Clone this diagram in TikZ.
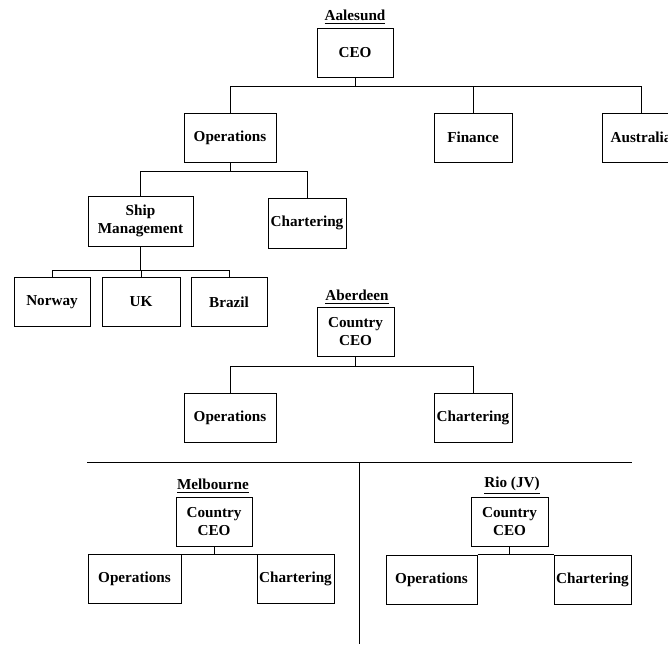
\documentclass[tikz,border=0pt]{standalone}
\usepackage{fontspec}
\setmainfont{Liberation Serif}

\tikzset{
  box/.style={draw, line width=0.5pt, align=center, inner sep=1pt,
    minimum height=24.5pt, font=\fontsize{7.6}{8.8}\selectfont\bfseries},
  site/.style={inner sep=0pt, font=\fontsize{7.6}{8.8}\selectfont\bfseries},
  link/.style={line width=0.5pt}
}

\begin{document}
\begin{tikzpicture}[x=0.5pt,y=-0.5pt]
				\useasboundingbox (0,0) rectangle (668,644);
				\clip (0,0) rectangle (668,644);
				
				% head office
				\node[site] (aalesund) at (355,17) {\underline{Aalesund}};
				\node[box, minimum width=38pt] (ceo) at (355,53) {CEO};
				\node[box, minimum width=46pt] (ops) at (230,137.5) {Operations};
				\node[box, minimum width=39pt] (fin) at (473,137.5) {Finance};
				\node[box, minimum width=39pt] (aus) at (641,137.5) {Australia};
				\coordinate (bus) at (0,86);
				\draw[link] (ceo.south) -- (ceo.south |- bus);
				\draw[link] (ops.north) -- (ops.north |- bus) -- (aus.north |- bus) -- (aus.north);
				\draw[link] (fin.north) -- (fin.north |- bus);
				
				\node[box, minimum width=52.5pt, minimum height=25pt] (ship) at (140.5,221) {Ship\\Management};
				\node[box, minimum width=39pt, minimum height=25pt] (char) at (307,223) {Chartering};
				\coordinate (opsbus) at (0,171);
				\draw[link] (ops.south) -- (ops.south |- opsbus);
				\draw[link] (ship.north) -- (ship.north |- opsbus) -- (char.north |- opsbus) -- (char.north);
				
				\node[box, minimum width=38pt] (nor) at (52,302) {Norway};
				\node[box, minimum width=39pt] (uk) at (141,302) {UK};
				\node[box, minimum width=38pt] (bra) at (229,302) {Brazil};
				\coordinate (shipbus) at (0,270);
				\draw[link] (ship.south) -- (ship.south |- shipbus);
				\draw[link] (nor.north) -- (nor.north |- shipbus) -- (bra.north |- shipbus) -- (bra.north);
				\draw[link] (uk.north) -- (uk.north |- shipbus);
				
				% Aberdeen
				\node[site] (aberdeen) at (357,297) {\underline{Aberdeen}};
				\node[box, minimum width=38.5pt] (abceo) at (355.5,331.5) {Country\\CEO};
				\node[box, minimum width=46pt] (abops) at (230,417.5) {Operations};
				\node[box, minimum width=39pt] (abchar) at (473,417.5) {Chartering};
				\coordinate (abbus) at (0,366);
				\draw[link] (abceo.south) -- (abceo.south |- abbus);
				\draw[link] (abops.north) -- (abops.north |- abbus) -- (abchar.north |- abbus) -- (abchar.north);
				
				% divider
				\coordinate (divl) at (87,462);
				\coordinate (divr) at (632,462);
				\coordinate (divt) at (359,462);
				\coordinate (divb) at (359,644);
				\draw[link] (divl) -- (divr);
				\draw[link] (divt) -- (divb);
				
				% Melbourne
				\node[site] (melbourne) at (213,486) {\underline{Melbourne}};
				\node[box, minimum width=38pt] (mceo) at (214,521.5) {Country\\CEO};
				\node[box, minimum width=46.5pt] (mops) at (134.5,579) {Operations};
				\node[box, minimum width=38.5pt] (mchar) at (295.5,579) {Chartering};
				\draw[link] (mceo.south) -- (mceo.south |- mops.north);
				\draw[link] (mops.north east) -- (mchar.north west);
				
				% Rio
				\node[site] (rio) at (512,486) {\underline{Rio (JV)}};
				\node[box, minimum width=38.5pt] (rceo) at (509.5,521.5) {Country\\CEO};
				\node[box, minimum width=45.5pt] (rops) at (431.5,579.5) {Operations};
				\node[box, minimum width=38.5pt] (rchar) at (592.5,579.5) {Chartering};
				\draw[link] (rceo.south) -- (rceo.south |- rops.north);
				\draw[link] (rops.north east) -- (rchar.north west);
			\end{tikzpicture}
\end{document}
